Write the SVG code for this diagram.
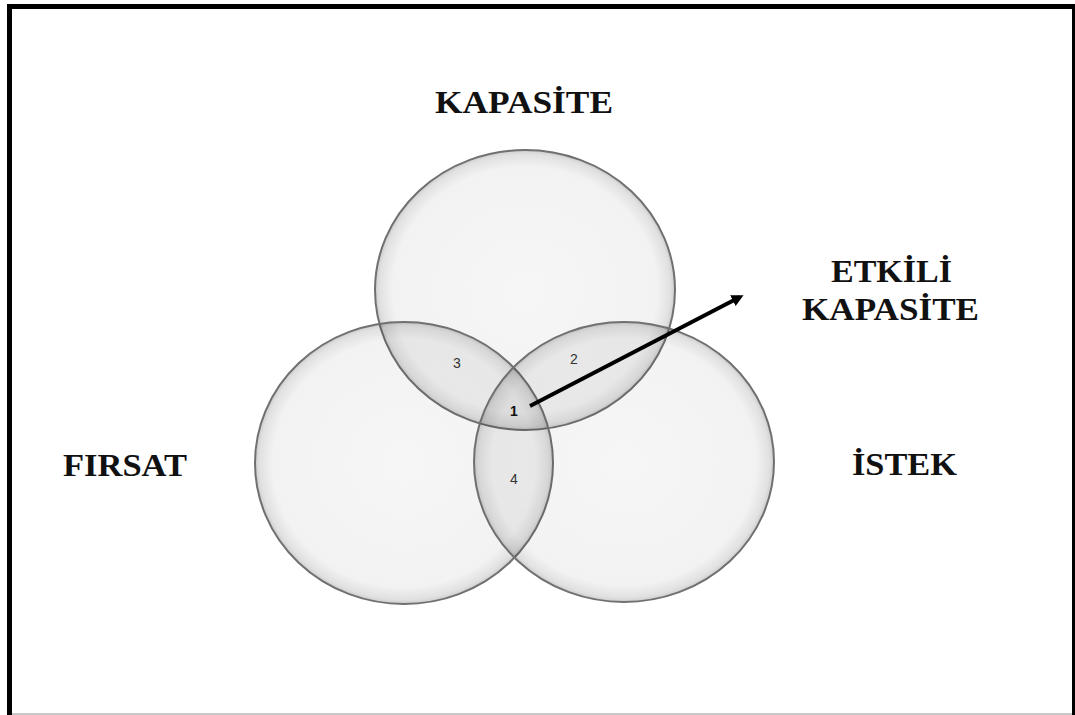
<svg xmlns="http://www.w3.org/2000/svg" width="1075" height="715" viewBox="0 0 1075 715">
<defs>
<radialGradient id="glass" cx="50%" cy="50%" r="50%">
<stop offset="0%" stop-color="#000" stop-opacity="0.035"/>
<stop offset="88%" stop-color="#000" stop-opacity="0.05"/>
<stop offset="97%" stop-color="#000" stop-opacity="0.12"/>
<stop offset="100%" stop-color="#000" stop-opacity="0.2"/>
</radialGradient>
<marker id="ah" markerWidth="12" markerHeight="12" refX="8" refY="6" orient="auto" markerUnits="userSpaceOnUse" viewBox="0 0 12 12">
<path d="M0,0 L12,6 L0,12 z" fill="#000"/>
</marker>
</defs>
<style>
.c{fill:url(#glass);stroke:#707070;stroke-width:2}
.lbl{font-family:"Liberation Serif","Times New Roman",serif;font-weight:bold;font-size:31px;fill:#111}
.num{font-family:"Liberation Sans",Arial,sans-serif;font-size:14px;fill:#333;text-anchor:middle}
</style>
<rect x="0" y="0" width="1075" height="715" fill="#fff"/>
<g id="frame">
<rect x="7" y="4" width="1068" height="5" fill="#000"/>
<rect x="7" y="4" width="5" height="711" fill="#000"/>
<rect x="1072" y="4" width="3" height="711" fill="#000"/>
<rect x="12" y="713" width="1060" height="2" fill="#c8c8c8"/>
</g>
<g id="circle-kapasite"><ellipse class="c" cx="525" cy="290" rx="150" ry="140"/></g>
<g id="circle-firsat"><ellipse class="c" cx="404" cy="463" rx="149" ry="141"/></g>
<g id="circle-istek"><ellipse class="c" cx="624" cy="462" rx="150" ry="140"/></g>
<g id="region-labels">
<text class="num" x="457" y="368">3</text>
<text class="num" x="574" y="364">2</text>
<text class="num" x="514" y="416" style="font-weight:bold;fill:#111">1</text>
<text class="num" x="514" y="484">4</text>
</g>
<g id="connectors">
<line x1="530" y1="406" x2="740" y2="297" stroke="#000" stroke-width="4" marker-end="url(#ah)"/>
</g>
<g id="label-kapasite"><text class="lbl" x="435" y="113" textLength="178" lengthAdjust="spacingAndGlyphs">KAPASİTE</text></g>
<g id="label-etkili"><text class="lbl" x="831" y="282" textLength="121" lengthAdjust="spacingAndGlyphs">ETKİLİ</text>
<text class="lbl" x="802" y="320" textLength="177" lengthAdjust="spacingAndGlyphs">KAPASİTE</text></g>
<g id="label-firsat"><text class="lbl" x="63" y="476" textLength="124" lengthAdjust="spacingAndGlyphs">FIRSAT</text></g>
<g id="label-istek"><text class="lbl" x="852" y="475" textLength="105" lengthAdjust="spacingAndGlyphs">İSTEK</text></g>
</svg>
